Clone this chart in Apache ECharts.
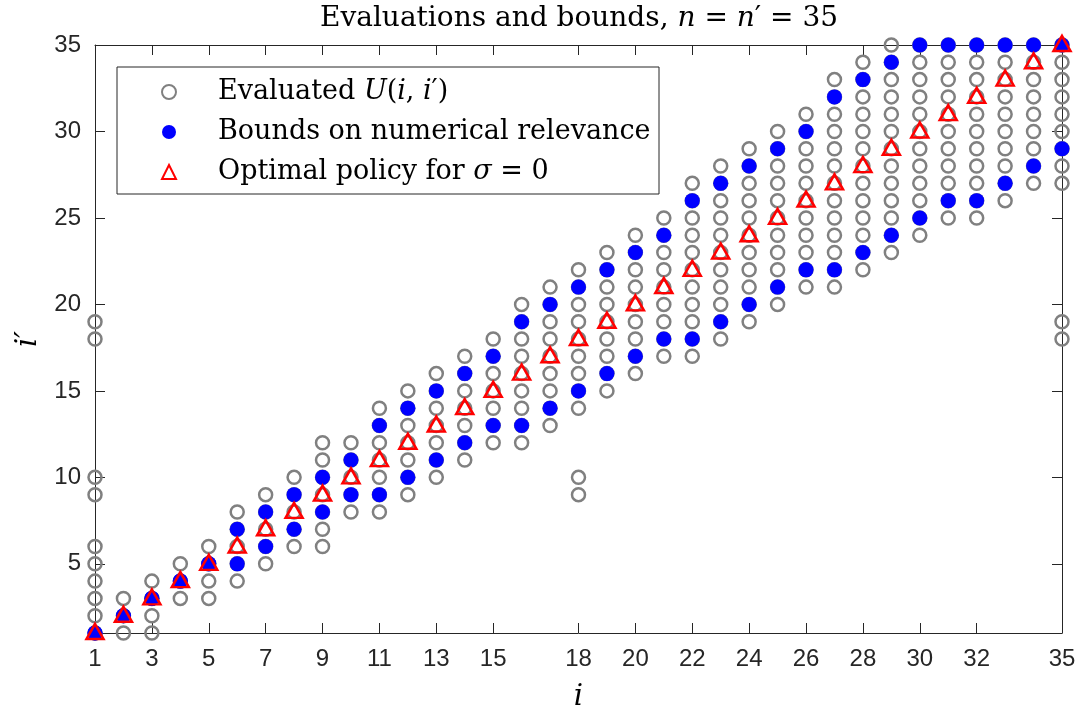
<!DOCTYPE html>
<html>
<head>
<meta charset="utf-8">
<title>Evaluations and bounds</title>
<script src="https://cdn.jsdelivr.net/npm/echarts@6.0.0/dist/echarts.min.js"></script>
<style>
  html, body { margin: 0; padding: 0; background: #fff; }
  #root { width: 1081px; height: 717px; }
</style>
</head>
<body>
<div id="root"></div>
<script>
const xTicks = [1, 3, 5, 7, 9, 11, 13, 15, 18, 20, 22, 24, 26, 28, 30, 32, 35]
const yTicks = [5, 10, 15, 20, 25, 30, 35]

// column i
const columns = [1, 2, 3, 4, 5, 6, 7, 8, 9, 10, 11, 12, 13, 14, 15, 16, 17, 18,
  19, 20, 21, 22, 23, 24, 25, 26, 27, 28, 29, 30, 31, 32, 33, 34, 35]

// i' values where U(i, i') was evaluated, one list per column
const evaluated = [
  [1, 2, 3, 4, 5, 6, 9, 10, 18, 19],
  [1, 2, 3],
  [1, 2, 3, 4],
  [3, 4, 5],
  [3, 4, 5, 6],
  [4, 5, 6, 7, 8],
  [5, 6, 7, 8, 9],
  [6, 7, 8, 9, 10],
  [6, 7, 8, 9, 10, 11, 12],
  [8, 9, 10, 11, 12],
  [8, 9, 10, 11, 12, 13, 14],
  [9, 10, 11, 12, 13, 14, 15],
  [10, 11, 12, 13, 14, 15, 16],
  [11, 12, 13, 14, 15, 16, 17],
  [12, 13, 14, 15, 16, 17, 18],
  [12, 13, 14, 15, 16, 17, 18, 19, 20],
  [13, 14, 15, 16, 17, 18, 19, 20, 21],
  [9, 10, 14, 15, 16, 17, 18, 19, 20, 21, 22],
  [15, 16, 17, 18, 19, 20, 21, 22, 23],
  [16, 17, 18, 19, 20, 21, 22, 23, 24],
  [17, 18, 19, 20, 21, 22, 23, 24, 25],
  [17, 18, 19, 20, 21, 22, 23, 24, 25, 26, 27],
  [18, 19, 20, 21, 22, 23, 24, 25, 26, 27, 28],
  [19, 20, 21, 22, 23, 24, 25, 26, 27, 28, 29],
  [20, 21, 22, 23, 24, 25, 26, 27, 28, 29, 30],
  [21, 22, 23, 24, 25, 26, 27, 28, 29, 30, 31],
  [21, 22, 23, 24, 25, 26, 27, 28, 29, 30, 31, 32, 33],
  [22, 23, 24, 25, 26, 27, 28, 29, 30, 31, 32, 33, 34],
  [23, 24, 25, 26, 27, 28, 29, 30, 31, 32, 33, 34, 35],
  [24, 25, 26, 27, 28, 29, 30, 31, 32, 33, 34, 35],
  [25, 26, 27, 28, 29, 30, 31, 32, 33, 34, 35],
  [25, 26, 27, 28, 29, 30, 31, 32, 33, 34, 35],
  [26, 27, 28, 29, 30, 31, 32, 33, 34, 35],
  [27, 28, 29, 30, 31, 32, 33, 34, 35],
  [18, 19, 27, 28, 29, 30, 31, 32, 33, 34, 35]
]

// bounds on numerical relevance (upper / lower i')
const boundHigh = [1, 2, 3, 4, 5, 7, 8, 9, 10, 11, 13, 14, 15, 16, 17, 19, 20, 21,
  22, 23, 24, 26, 27, 28, 29, 30, 32, 33, 34, 35, 35, 35, 35, 35, 35]
const boundLow = [1, 2, 3, 4, 5, 5, 6, 7, 8, 9, 9, 10, 11, 12, 13, 13, 14, 15,
  16, 17, 18, 18, 19, 20, 21, 22, 22, 23, 24, 25, 26, 26, 27, 28, 29]

// optimal policy for sigma = 0
const policy = [1, 2, 3, 4, 5, 6, 7, 8, 9, 10, 11, 12, 13, 14, 15, 16, 17, 18,
  19, 20, 21, 22, 23, 24, 25, 26, 27, 28, 29, 30, 31, 32, 33, 34, 35]

const serif = 'DejaVu Serif'
const sans = 'Liberation Sans'
const ink = '#262626'

const evalPoints = []
columns.forEach((i, k) => {
  evaluated[k].forEach(v => evalPoints.push([i, v]))
})
const boundPoints = columns.map((i, k) => [i, boundHigh[k]])
  .concat(columns.map((i, k) => [i, boundLow[k]]))
const policyPoints = columns.map((i, k) => [i, policy[k]])

const legendText = {
  Evaluated: '{sp|}{t|Evaluated }{m|U}{t|(}{m|i}{t|, }{m|i}{t|′)}',
  Bounds: '{sp|}{t|Bounds on numerical relevance}',
  Policy: '{sp|}{t|Optimal policy for }{m|σ}{t| = 0}'
}

const txt = (size, extra) => Object.assign({
  fontFamily: serif, fontSize: size, fontWeight: 'normal', color: '#000'
}, extra || {})

const myChart = echarts.init(document.getElementById('root'), null, { renderer: 'canvas' })

const axisCommon = {
  type: 'value',
  min: 1,
  max: 35,
  axisLine: { show: true, onZero: false, lineStyle: { color: ink, width: 1 } },
  splitLine: { show: false }
}

const option = {
  backgroundColor: '#fff',
  animation: false,
  title: {
    text: '{t|Evaluations and bounds, }{m|n}{t| = }{m|n}{t|′ = 35}',
    left: 579,
    top: 5,
    padding: 0,
    textAlign: 'center',
    textStyle: txt(28, {
      rich: {
        t: txt(28),
        m: txt(28, { fontStyle: 'italic' })
      }
    })
  },
  grid: { left: 95, right: 19, top: 45, bottom: 83 },
  graphic: [{
    type: 'rect',
    z: 3,
    shape: { x: 117, y: 67, width: 542, height: 127 },
    style: { fill: '#fff', stroke: ink, lineWidth: 1 }
  }],
  legend: {
    z: 5,
    orient: 'vertical',
    left: 161,
    top: 77,
    padding: 0,
    itemWidth: 14,
    itemHeight: 14,
    itemGap: 10,
    selectedMode: false,
    formatter: name => legendText[name],
    textStyle: txt(27, {
      lineHeight: 30,
      rich: {
        sp: { width: 37 },
        t: txt(27, { lineHeight: 30 }),
        m: txt(27, { lineHeight: 30, fontStyle: 'italic' })
      }
    })
  },
  xAxis: [
    Object.assign({}, axisCommon, {
      position: 'bottom',
      name: 'i',
      nameLocation: 'middle',
      nameGap: 50,
      nameTextStyle: txt(29, { fontStyle: 'italic' }),
      axisTick: { inside: true, length: 10, customValues: xTicks, lineStyle: { color: ink } },
      axisLabel: { customValues: xTicks, fontFamily: sans, fontSize: 24, color: ink, margin: 14 }
    }),
    Object.assign({}, axisCommon, {
      position: 'top',
      axisTick: { inside: true, length: 10, customValues: xTicks, lineStyle: { color: ink } },
      axisLabel: { show: false }
    })
  ],
  yAxis: [
    Object.assign({}, axisCommon, {
      position: 'left',
      name: 'i′',
      nameLocation: 'middle',
      nameGap: 50,
      nameTextStyle: txt(29, { fontStyle: 'italic' }),
      axisTick: { inside: true, length: 10, customValues: yTicks, lineStyle: { color: ink } },
      axisLabel: { customValues: yTicks, fontFamily: sans, fontSize: 24, color: ink, margin: 14 }
    }),
    Object.assign({}, axisCommon, {
      position: 'right',
      axisTick: { inside: true, length: 10, customValues: yTicks, lineStyle: { color: ink } },
      axisLabel: { show: false }
    })
  ],
  series: [
    {
      name: 'Evaluated',
      type: 'scatter',
      clip: false,
      symbol: 'circle',
      symbolSize: 13,
      itemStyle: { color: 'rgba(0,0,0,0)', borderColor: '#808080', borderWidth: 2.5, opacity: 1 },
      data: evalPoints
    },
    {
      name: 'Bounds',
      type: 'scatter',
      clip: false,
      symbol: 'circle',
      symbolSize: 15,
      itemStyle: { color: '#0000ff', opacity: 1 },
      data: boundPoints
    },
    {
      name: 'Policy',
      type: 'scatter',
      clip: false,
      symbol: 'triangle',
      symbolSize: [17, 15],
      symbolOffset: [0, -1.5],
      itemStyle: { color: 'rgba(0,0,0,0)', borderColor: '#ff0000', borderWidth: 2.5, opacity: 1 },
      data: policyPoints
    }
  ]
}

myChart.setOption(option)
</script>
</body>
</html>
